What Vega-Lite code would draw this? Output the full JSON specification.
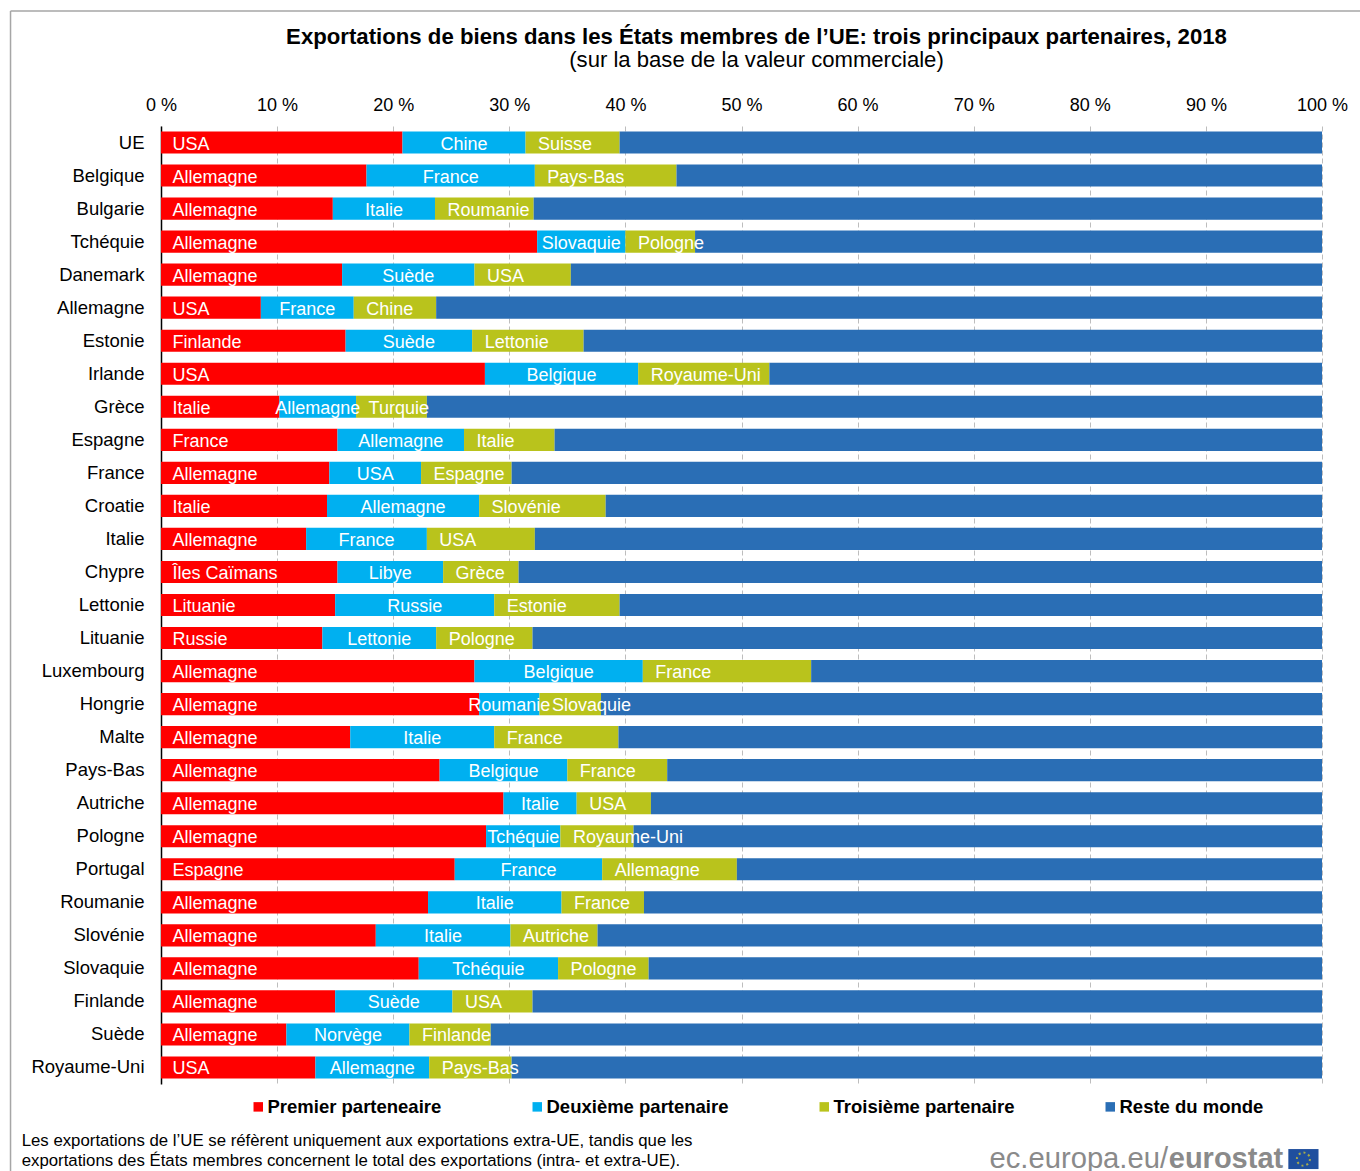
{"$schema":"https://vega.github.io/schema/vega-lite/v6.json","width":1161,"height":958,"autosize":{"type":"none"},"padding":{"left":161,"top":126,"right":38,"bottom":87},"background":"white",
"title":{"text":"Exportations de biens dans les États membres de l’UE: trois principaux partenaires, 2018","subtitle":"(sur la base de la valeur  commerciale)","font":"Liberation Sans","fontSize":22.2,"fontWeight":"bold","color":"#000000","subtitleFont":"Liberation Sans","subtitleFontSize":22.1,"subtitleColor":"#000000","subtitlePadding":2,"anchor":"middle","frame":"group","dx":15,"offset":-61},
"config":{"view":{"stroke":null},"font":"Liberation Sans"},
"datasets":{"parts":[
{"pays":"UE","partenaire":"USA","rang":"Premier parteneaire","ordre":1,"part":20.8},{"pays":"UE","partenaire":"Chine","rang":"Deuxième partenaire","ordre":2,"part":10.6},{"pays":"UE","partenaire":"Suisse","rang":"Troisième partenaire","ordre":3,"part":8.1},{"pays":"UE","partenaire":null,"rang":"Reste du monde","ordre":4,"part":60.5},
{"pays":"Belgique","partenaire":"Allemagne","rang":"Premier parteneaire","ordre":1,"part":17.7},{"pays":"Belgique","partenaire":"France","rang":"Deuxième partenaire","ordre":2,"part":14.5},{"pays":"Belgique","partenaire":"Pays-Bas","rang":"Troisième partenaire","ordre":3,"part":12.2},{"pays":"Belgique","partenaire":null,"rang":"Reste du monde","ordre":4,"part":55.6},
{"pays":"Bulgarie","partenaire":"Allemagne","rang":"Premier parteneaire","ordre":1,"part":14.8},{"pays":"Bulgarie","partenaire":"Italie","rang":"Deuxième partenaire","ordre":2,"part":8.8},{"pays":"Bulgarie","partenaire":"Roumanie","rang":"Troisième partenaire","ordre":3,"part":8.5},{"pays":"Bulgarie","partenaire":null,"rang":"Reste du monde","ordre":4,"part":67.9},
{"pays":"Tchéquie","partenaire":"Allemagne","rang":"Premier parteneaire","ordre":1,"part":32.4},{"pays":"Tchéquie","partenaire":"Slovaquie","rang":"Deuxième partenaire","ordre":2,"part":7.6},{"pays":"Tchéquie","partenaire":"Pologne","rang":"Troisième partenaire","ordre":3,"part":6.0},{"pays":"Tchéquie","partenaire":null,"rang":"Reste du monde","ordre":4,"part":54.0},
{"pays":"Danemark","partenaire":"Allemagne","rang":"Premier parteneaire","ordre":1,"part":15.6},{"pays":"Danemark","partenaire":"Suède","rang":"Deuxième partenaire","ordre":2,"part":11.4},{"pays":"Danemark","partenaire":"USA","rang":"Troisième partenaire","ordre":3,"part":8.3},{"pays":"Danemark","partenaire":null,"rang":"Reste du monde","ordre":4,"part":64.7},
{"pays":"Allemagne","partenaire":"USA","rang":"Premier parteneaire","ordre":1,"part":8.6},{"pays":"Allemagne","partenaire":"France","rang":"Deuxième partenaire","ordre":2,"part":8.0},{"pays":"Allemagne","partenaire":"Chine","rang":"Troisième partenaire","ordre":3,"part":7.1},{"pays":"Allemagne","partenaire":null,"rang":"Reste du monde","ordre":4,"part":76.3},
{"pays":"Estonie","partenaire":"Finlande","rang":"Premier parteneaire","ordre":1,"part":15.9},{"pays":"Estonie","partenaire":"Suède","rang":"Deuxième partenaire","ordre":2,"part":10.9},{"pays":"Estonie","partenaire":"Lettonie","rang":"Troisième partenaire","ordre":3,"part":9.6},{"pays":"Estonie","partenaire":null,"rang":"Reste du monde","ordre":4,"part":63.6},
{"pays":"Irlande","partenaire":"USA","rang":"Premier parteneaire","ordre":1,"part":27.9},{"pays":"Irlande","partenaire":"Belgique","rang":"Deuxième partenaire","ordre":2,"part":13.2},{"pays":"Irlande","partenaire":"Royaume-Uni","rang":"Troisième partenaire","ordre":3,"part":11.3},{"pays":"Irlande","partenaire":null,"rang":"Reste du monde","ordre":4,"part":47.6},
{"pays":"Grèce","partenaire":"Italie","rang":"Premier parteneaire","ordre":1,"part":10.2},{"pays":"Grèce","partenaire":"Allemagne","rang":"Deuxième partenaire","ordre":2,"part":6.6},{"pays":"Grèce","partenaire":"Turquie","rang":"Troisième partenaire","ordre":3,"part":6.1},{"pays":"Grèce","partenaire":null,"rang":"Reste du monde","ordre":4,"part":77.1},
{"pays":"Espagne","partenaire":"France","rang":"Premier parteneaire","ordre":1,"part":15.2},{"pays":"Espagne","partenaire":"Allemagne","rang":"Deuxième partenaire","ordre":2,"part":10.9},{"pays":"Espagne","partenaire":"Italie","rang":"Troisième partenaire","ordre":3,"part":7.8},{"pays":"Espagne","partenaire":null,"rang":"Reste du monde","ordre":4,"part":66.1},
{"pays":"France","partenaire":"Allemagne","rang":"Premier parteneaire","ordre":1,"part":14.5},{"pays":"France","partenaire":"USA","rang":"Deuxième partenaire","ordre":2,"part":7.9},{"pays":"France","partenaire":"Espagne","rang":"Troisième partenaire","ordre":3,"part":7.8},{"pays":"France","partenaire":null,"rang":"Reste du monde","ordre":4,"part":69.8},
{"pays":"Croatie","partenaire":"Italie","rang":"Premier parteneaire","ordre":1,"part":14.3},{"pays":"Croatie","partenaire":"Allemagne","rang":"Deuxième partenaire","ordre":2,"part":13.1},{"pays":"Croatie","partenaire":"Slovénie","rang":"Troisième partenaire","ordre":3,"part":10.9},{"pays":"Croatie","partenaire":null,"rang":"Reste du monde","ordre":4,"part":61.7},
{"pays":"Italie","partenaire":"Allemagne","rang":"Premier parteneaire","ordre":1,"part":12.5},{"pays":"Italie","partenaire":"France","rang":"Deuxième partenaire","ordre":2,"part":10.4},{"pays":"Italie","partenaire":"USA","rang":"Troisième partenaire","ordre":3,"part":9.3},{"pays":"Italie","partenaire":null,"rang":"Reste du monde","ordre":4,"part":67.8},
{"pays":"Chypre","partenaire":"Îles Caïmans","rang":"Premier parteneaire","ordre":1,"part":15.2},{"pays":"Chypre","partenaire":"Libye","rang":"Deuxième partenaire","ordre":2,"part":9.1},{"pays":"Chypre","partenaire":"Grèce","rang":"Troisième partenaire","ordre":3,"part":6.5},{"pays":"Chypre","partenaire":null,"rang":"Reste du monde","ordre":4,"part":69.2},
{"pays":"Lettonie","partenaire":"Lituanie","rang":"Premier parteneaire","ordre":1,"part":15.0},{"pays":"Lettonie","partenaire":"Russie","rang":"Deuxième partenaire","ordre":2,"part":13.7},{"pays":"Lettonie","partenaire":"Estonie","rang":"Troisième partenaire","ordre":3,"part":10.8},{"pays":"Lettonie","partenaire":null,"rang":"Reste du monde","ordre":4,"part":60.5},
{"pays":"Lituanie","partenaire":"Russie","rang":"Premier parteneaire","ordre":1,"part":13.9},{"pays":"Lituanie","partenaire":"Lettonie","rang":"Deuxième partenaire","ordre":2,"part":9.8},{"pays":"Lituanie","partenaire":"Pologne","rang":"Troisième partenaire","ordre":3,"part":8.3},{"pays":"Lituanie","partenaire":null,"rang":"Reste du monde","ordre":4,"part":68.0},
{"pays":"Luxembourg","partenaire":"Allemagne","rang":"Premier parteneaire","ordre":1,"part":27.0},{"pays":"Luxembourg","partenaire":"Belgique","rang":"Deuxième partenaire","ordre":2,"part":14.5},{"pays":"Luxembourg","partenaire":"France","rang":"Troisième partenaire","ordre":3,"part":14.5},{"pays":"Luxembourg","partenaire":null,"rang":"Reste du monde","ordre":4,"part":44.0},
{"pays":"Hongrie","partenaire":"Allemagne","rang":"Premier parteneaire","ordre":1,"part":27.4},{"pays":"Hongrie","partenaire":"Roumanie","rang":"Deuxième partenaire","ordre":2,"part":5.2},{"pays":"Hongrie","partenaire":"Slovaquie","rang":"Troisième partenaire","ordre":3,"part":5.3},{"pays":"Hongrie","partenaire":null,"rang":"Reste du monde","ordre":4,"part":62.1},
{"pays":"Malte","partenaire":"Allemagne","rang":"Premier parteneaire","ordre":1,"part":16.3},{"pays":"Malte","partenaire":"Italie","rang":"Deuxième partenaire","ordre":2,"part":12.4},{"pays":"Malte","partenaire":"France","rang":"Troisième partenaire","ordre":3,"part":10.7},{"pays":"Malte","partenaire":null,"rang":"Reste du monde","ordre":4,"part":60.6},
{"pays":"Pays-Bas","partenaire":"Allemagne","rang":"Premier parteneaire","ordre":1,"part":24.0},{"pays":"Pays-Bas","partenaire":"Belgique","rang":"Deuxième partenaire","ordre":2,"part":11.0},{"pays":"Pays-Bas","partenaire":"France","rang":"Troisième partenaire","ordre":3,"part":8.6},{"pays":"Pays-Bas","partenaire":null,"rang":"Reste du monde","ordre":4,"part":56.4},
{"pays":"Autriche","partenaire":"Allemagne","rang":"Premier parteneaire","ordre":1,"part":29.5},{"pays":"Autriche","partenaire":"Italie","rang":"Deuxième partenaire","ordre":2,"part":6.3},{"pays":"Autriche","partenaire":"USA","rang":"Troisième partenaire","ordre":3,"part":6.4},{"pays":"Autriche","partenaire":null,"rang":"Reste du monde","ordre":4,"part":57.8},
{"pays":"Pologne","partenaire":"Allemagne","rang":"Premier parteneaire","ordre":1,"part":28.0},{"pays":"Pologne","partenaire":"Tchéquie","rang":"Deuxième partenaire","ordre":2,"part":6.4},{"pays":"Pologne","partenaire":"Royaume-Uni","rang":"Troisième partenaire","ordre":3,"part":6.3},{"pays":"Pologne","partenaire":null,"rang":"Reste du monde","ordre":4,"part":59.3},
{"pays":"Portugal","partenaire":"Espagne","rang":"Premier parteneaire","ordre":1,"part":25.3},{"pays":"Portugal","partenaire":"France","rang":"Deuxième partenaire","ordre":2,"part":12.7},{"pays":"Portugal","partenaire":"Allemagne","rang":"Troisième partenaire","ordre":3,"part":11.6},{"pays":"Portugal","partenaire":null,"rang":"Reste du monde","ordre":4,"part":50.4},
{"pays":"Roumanie","partenaire":"Allemagne","rang":"Premier parteneaire","ordre":1,"part":23.0},{"pays":"Roumanie","partenaire":"Italie","rang":"Deuxième partenaire","ordre":2,"part":11.5},{"pays":"Roumanie","partenaire":"France","rang":"Troisième partenaire","ordre":3,"part":7.1},{"pays":"Roumanie","partenaire":null,"rang":"Reste du monde","ordre":4,"part":58.4},
{"pays":"Slovénie","partenaire":"Allemagne","rang":"Premier parteneaire","ordre":1,"part":18.5},{"pays":"Slovénie","partenaire":"Italie","rang":"Deuxième partenaire","ordre":2,"part":11.6},{"pays":"Slovénie","partenaire":"Autriche","rang":"Troisième partenaire","ordre":3,"part":7.5},{"pays":"Slovénie","partenaire":null,"rang":"Reste du monde","ordre":4,"part":62.4},
{"pays":"Slovaquie","partenaire":"Allemagne","rang":"Premier parteneaire","ordre":1,"part":22.2},{"pays":"Slovaquie","partenaire":"Tchéquie","rang":"Deuxième partenaire","ordre":2,"part":12.0},{"pays":"Slovaquie","partenaire":"Pologne","rang":"Troisième partenaire","ordre":3,"part":7.8},{"pays":"Slovaquie","partenaire":null,"rang":"Reste du monde","ordre":4,"part":58.0},
{"pays":"Finlande","partenaire":"Allemagne","rang":"Premier parteneaire","ordre":1,"part":15.0},{"pays":"Finlande","partenaire":"Suède","rang":"Deuxième partenaire","ordre":2,"part":10.1},{"pays":"Finlande","partenaire":"USA","rang":"Troisième partenaire","ordre":3,"part":6.9},{"pays":"Finlande","partenaire":null,"rang":"Reste du monde","ordre":4,"part":68.0},
{"pays":"Suède","partenaire":"Allemagne","rang":"Premier parteneaire","ordre":1,"part":10.8},{"pays":"Suède","partenaire":"Norvège","rang":"Deuxième partenaire","ordre":2,"part":10.6},{"pays":"Suède","partenaire":"Finlande","rang":"Troisième partenaire","ordre":3,"part":7.0},{"pays":"Suède","partenaire":null,"rang":"Reste du monde","ordre":4,"part":71.6},
{"pays":"Royaume-Uni","partenaire":"USA","rang":"Premier parteneaire","ordre":1,"part":13.3},{"pays":"Royaume-Uni","partenaire":"Allemagne","rang":"Deuxième partenaire","ordre":2,"part":9.8},{"pays":"Royaume-Uni","partenaire":"Pays-Bas","rang":"Troisième partenaire","ordre":3,"part":7.1},{"pays":"Royaume-Uni","partenaire":null,"rang":"Reste du monde","ordre":4,"part":69.8}
]},
"resolve":{"scale":{"y":"independent"}},
"layer":[
{"data":{"name":"parts"},"transform":[{"stack":"part","groupby":["pays"],"sort":[{"field":"ordre","order":"ascending"}],"as":["debut","fin"]}],
 "mark":{"type":"bar","tooltip":false},
 "encoding":{
  "y":{"field":"pays","type":"nominal","sort":null,"title":null,"scale":{"paddingInner":0.33,"paddingOuter":0.165},"axis":{"labelFont":"Liberation Sans","labelFontSize":18.5,"labelColor":"#000000","labelPadding":17,"ticks":false,"domain":true,"domainColor":"#000000","domainWidth":1.5,"grid":false,"labelLimit":200}},
  "x":{"field":"debut","type":"quantitative","title":null,"scale":{"domain":[0,100],"nice":false},"axis":{"orient":"top","values":[0,10,20,30,40,50,60,70,80,90,100],"labelExpr":"datum.value + ' %'","labelFont":"Liberation Sans","labelFontSize":18,"labelColor":"#000000","labelPadding":12,"ticks":false,"domain":false,"grid":true,"gridColor":"#bdbdbd","gridDash":[5,3],"gridWidth":1,"labelFlush":false}},
  "x2":{"field":"fin"},
  "color":{"field":"rang","type":"nominal","scale":{"domain":["Premier parteneaire","Deuxième partenaire","Troisième partenaire","Reste du monde"],"range":["#ff0000","#00b0f0","#b9c31c","#2a6eb5"]},
   "legend":{"title":null,"orient":"none","legendX":88,"legendY":971.5,"direction":"horizontal","columns":4,"columnPadding":86,"symbolType":"square","symbolSize":90,"symbolStrokeWidth":0,"labelFont":"Liberation Sans","labelFontSize":18.5,"labelFontWeight":"bold","labelColor":"#000000","labelOffset":0,"labelLimit":300}}
 }},
{"data":{"name":"parts"},"transform":[{"stack":"part","groupby":["pays"],"sort":[{"field":"ordre","order":"ascending"}],"as":["debut","fin"]},{"filter":"datum.ordre == 1"}],
 "mark":{"type":"text","align":"left","baseline":"middle","dx":11.5,"dy":2,"font":"Liberation Sans","fontSize":18,"color":"#ffffff"},
 "encoding":{"y":{"field":"pays","type":"nominal","sort":null,"axis":null,"scale":{"paddingInner":0.33,"paddingOuter":0.165}},"x":{"field":"debut","type":"quantitative"},"text":{"field":"partenaire"}}},
{"data":{"name":"parts"},"transform":[{"stack":"part","groupby":["pays"],"sort":[{"field":"ordre","order":"ascending"}],"as":["debut","fin"]},{"filter":"datum.ordre == 2"},{"calculate":"(datum.debut + datum.fin) / 2","as":"milieu"}],
 "mark":{"type":"text","align":"center","baseline":"middle","dy":2,"font":"Liberation Sans","fontSize":18,"color":"#ffffff"},
 "encoding":{"y":{"field":"pays","type":"nominal","sort":null,"axis":null,"scale":{"paddingInner":0.33,"paddingOuter":0.165}},"x":{"field":"milieu","type":"quantitative"},"text":{"field":"partenaire"}}},
{"data":{"name":"parts"},"transform":[{"stack":"part","groupby":["pays"],"sort":[{"field":"ordre","order":"ascending"}],"as":["debut","fin"]},{"filter":"datum.ordre == 3"}],
 "mark":{"type":"text","align":"left","baseline":"middle","dx":12.5,"dy":2,"font":"Liberation Sans","fontSize":18,"color":"#ffffff"},
 "encoding":{"y":{"field":"pays","type":"nominal","sort":null,"axis":null,"scale":{"paddingInner":0.33,"paddingOuter":0.165}},"x":{"field":"debut","type":"quantitative"},"text":{"field":"partenaire"}}},
{"data":{"values":[{"x":-12.96,"x2":-12.96,"y":1.12,"y2":-0.092},{"x":-12.96,"x2":103.3,"y":1.12,"y2":1.12}]},
 "mark":{"type":"rule","color":"#a6a6a6","strokeWidth":1.5},
 "encoding":{"x":{"field":"x","type":"quantitative"},"x2":{"field":"x2"},"y":{"field":"y","type":"quantitative","axis":null,"scale":{"domain":[0,1]}},"y2":{"field":"y2"}}},
{"data":{"values":[{"x":-12,"y":-0.0648,"t":"Les exportations de l’UE se réfèrent uniquement aux exportations extra-UE, tandis que les"},{"x":-12,"y":-0.0857,"t":"exportations des États membres concernent le total des exportations (intra- et extra-UE)."}]},
 "mark":{"type":"text","align":"left","baseline":"alphabetic","font":"Liberation Sans","fontSize":16.8,"color":"#000000"},
 "encoding":{"x":{"field":"x","type":"quantitative"},"y":{"field":"y","type":"quantitative","axis":null,"scale":{"domain":[0,1]}},"text":{"field":"t"}}},
{"data":{"values":[{"x":86.74,"y":-0.0878,"t":"ec.europa.eu/"}]},
 "mark":{"type":"text","align":"right","baseline":"alphabetic","font":"Liberation Sans","fontSize":29.2,"color":"#8a8a8a"},
 "encoding":{"x":{"field":"x","type":"quantitative"},"y":{"field":"y","type":"quantitative","axis":null,"scale":{"domain":[0,1]}},"text":{"field":"t"}}},
{"data":{"values":[{"x":86.8,"y":-0.0878,"t":"eurostat"}]},
 "mark":{"type":"text","align":"left","baseline":"alphabetic","font":"Liberation Sans","fontSize":29,"fontWeight":"bold","color":"#8a8a8a"},
 "encoding":{"x":{"field":"x","type":"quantitative"},"y":{"field":"y","type":"quantitative","axis":null,"scale":{"domain":[0,1]}},"text":{"field":"t"}}},
{"data":{"values":[{"x":97.1,"x2":99.7,"y":-0.0679,"y2":-0.0888}]},
 "mark":{"type":"rect","color":"#1f4f9e"},
 "encoding":{"x":{"field":"x","type":"quantitative"},"x2":{"field":"x2"},"y":{"field":"y","type":"quantitative","axis":null,"scale":{"domain":[0,1]}},"y2":{"field":"y2"}}},
{"data":{"values":[{"x":98.4,"y":-0.0784}]},
 "mark":{"type":"point","shape":"circle","size":170,"filled":false,"color":"#e0d22a","strokeWidth":2,"strokeDash":[2,3]},
 "encoding":{"x":{"field":"x","type":"quantitative"},"y":{"field":"y","type":"quantitative","axis":null,"scale":{"domain":[0,1]}}}}
]}
